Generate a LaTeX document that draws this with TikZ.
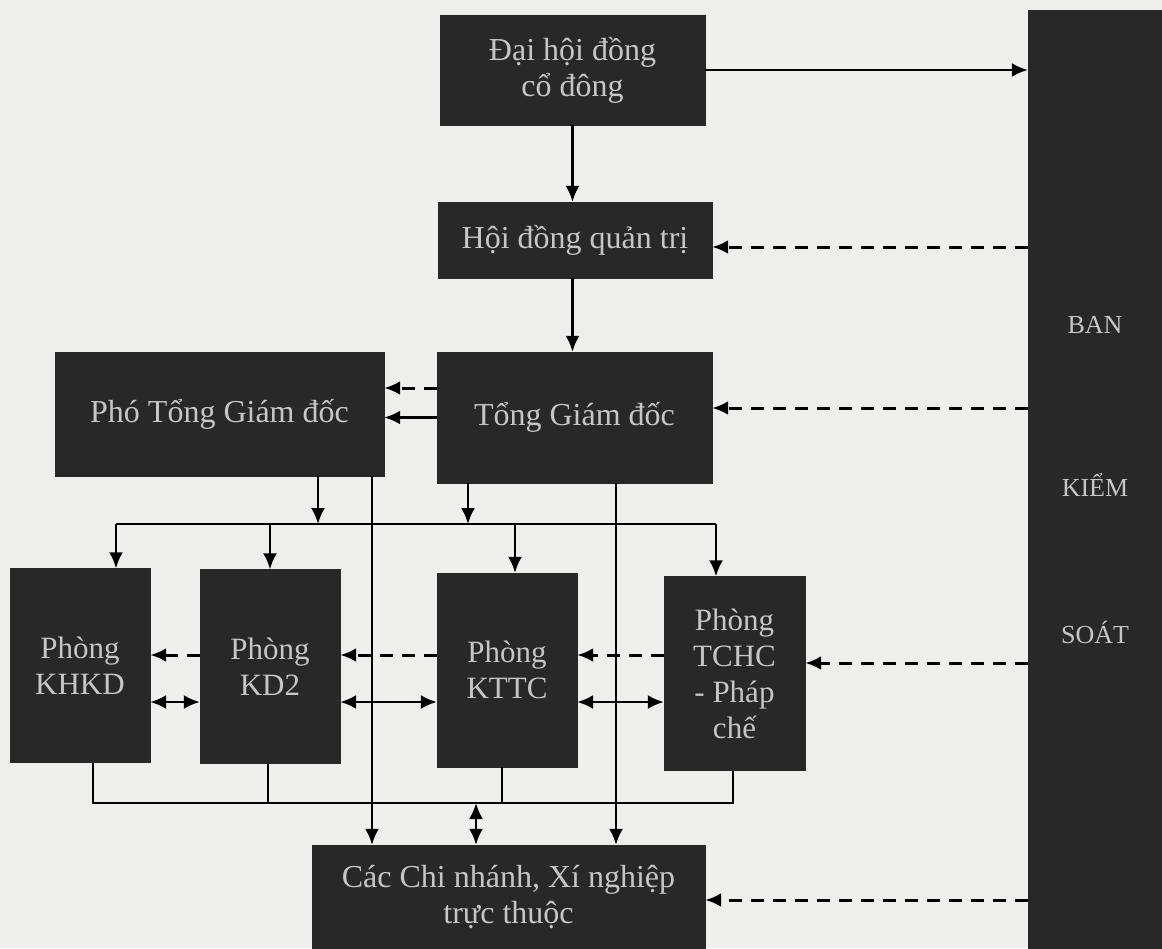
\documentclass[tikz,border=0pt]{standalone}
\usepackage{fontspec}
\setmainfont{Liberation Serif}
\usetikzlibrary{arrows.meta,calc}
\definecolor{bg}{HTML}{EEEFEC}
\definecolor{boxc}{HTML}{282828}
\definecolor{txt}{HTML}{C6C6C6}
\begin{document}
\begin{tikzpicture}[x=1pt,y=-1pt,
  box/.style={draw=boxc, fill=boxc, text=txt, inner sep=0pt, align=center, font=\fontsize{32}{36}\selectfont},
  dept/.style={box, minimum width=140pt, minimum height=194pt, font=\fontsize{31}{36}\selectfont},
  tip/.tip={Latex[length=16pt,width=14pt]},
  arr/.style={draw=black, line width=2.4pt, -tip},
  darr/.style={arr, dash pattern=on 13pt off 9pt, line width=3pt},
  dbl/.style={draw=black, line width=2.4pt, tip-tip},
  ln/.style={draw=black, line width=2pt}]
\fill[bg] (0,0) rectangle (1162,948);
\useasboundingbox (0,0) rectangle (1162,948);

% boxes
\node[box, minimum width=265pt, minimum height=110pt] (dh) at (572.5,70) {Đại hội đồng\\cổ đông};
\node[box, minimum width=274pt, minimum height=76pt] (hd) at (575,240) {Hội đồng quản trị};
\node[box, minimum width=275pt, minimum height=131pt] (tg) at (574.5,417.5) {Tổng Giám đốc};
\node[box, minimum width=329pt, minimum height=124pt] (pt) at (219.5,414) {Phó Tổng Giám đốc};
\node[box, minimum width=134pt, minimum height=940pt, font=\fontsize{26}{30}\selectfont] (bk) at (1095,480) {BAN\\[133pt]KIỂM\\[117pt]SOÁT};
\node[dept] (kh) at (80,665.5) {Phòng\\KHKD};
\node[dept] (k2) at (270,666.5) {Phòng\\KD2};
\node[dept] (kt) at (507,670) {Phòng\\KTTC};
\node[dept, minimum width=141pt] (tc) at (734.5,673.5) {Phòng\\TCHC\\- Pháp\\chế};
\node[box, minimum width=393pt, minimum height=104pt] (cn) at (508.5,897) {Các Chi nhánh, Xí nghiệp\\trực thuộc};

% helper levels
\coordinate (yA) at (0,524);
\coordinate (yB) at (0,803);
\coordinate (yD) at (0,655);
\coordinate (yS) at (0,702);
\coordinate (yT) at (0,663);
\coordinate (yC) at (0,900);
\coordinate (yP) at (0,388);
\coordinate (yH) at (0,247);
\coordinate (yG) at (0,408);
\coordinate (x318) at (318,0);
\coordinate (x468) at (468,0);
\coordinate (x372) at (372,0);
\coordinate (x616) at (616,0);
\coordinate (x116) at (116,0);
\coordinate (x270) at (270,0);
\coordinate (x515) at (515,0);
\coordinate (x716) at (716,0);
\coordinate (x93) at (93,0);
\coordinate (x268) at (268,0);
\coordinate (x502) at (502,0);
\coordinate (x733) at (733,0);
\coordinate (x476) at (476,0);

% top part
\draw[arr] (dh.east) -- (dh.east -| bk.west);
\draw[arr] (dh.south) -- (dh.south |- hd.north);
\draw[darr] (bk.west |- yH) -- (hd.east |- yH);
\draw[arr] (hd.south -| dh.south) -- (tg.north -| dh.south);
\draw[darr] (bk.west |- yG) -- (tg.east |- yG);
\draw[darr] (tg.west |- yP) -- (pt.east |- yP);
\draw[arr] (tg.west) -- (tg.west -| pt.east);

% top bus
\draw[arr] (pt.south -| x318) -- (yA -| x318);
\draw[arr] (tg.south -| x468) -- (yA -| x468);
\draw[ln] (yA -| x116) -- (yA -| x716);
\draw[arr] (yA -| x116) -- (kh.north -| x116);
\draw[arr] (yA -| x270) -- (k2.north -| x270);
\draw[arr] (yA -| x515) -- (kt.north -| x515);
\draw[arr] (yA -| x716) -- (tc.north -| x716);

% long lines to branches
\draw[arr] (pt.south -| x372) -- (cn.north -| x372);
\draw[arr] (tg.south -| x616) -- (cn.north -| x616);

% department row
\draw[darr] (k2.west |- yD) -- (kh.east |- yD);
\draw[darr] (kt.west |- yD) -- (k2.east |- yD);
\draw[darr] (tc.west |- yD) -- (kt.east |- yD);
\draw[darr] (bk.west |- yT) -- (tc.east |- yT);
\draw[dbl] (kh.east |- yS) -- (k2.west |- yS);
\draw[dbl] (k2.east |- yS) -- (kt.west |- yS);
\draw[dbl] (kt.east |- yS) -- (tc.west |- yS);

% bottom bus
\draw[ln] (kh.south -| x93) -- (yB -| x93) -- (yB -| x733) -- (tc.south -| x733);
\draw[ln] (k2.south -| x268) -- (yB -| x268);
\draw[ln] (kt.south -| x502) -- (yB -| x502);
\draw[dbl] (yB -| x476) -- (cn.north -| x476);
\draw[darr] (bk.west |- yC) -- (cn.east |- yC);
\end{tikzpicture}
\end{document}
